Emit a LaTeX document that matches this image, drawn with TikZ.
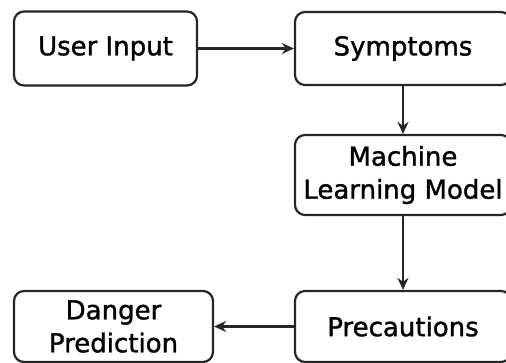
\documentclass[tikz,border=0pt]{standalone}
\usepackage{fontspec}
\setmainfont{DejaVu Sans}
\newfontfamily\stagefont[FakeBold=1.3]{DejaVu Sans}
\usetikzlibrary{arrows.meta,positioning}

\begin{document}
\begin{tikzpicture}[
    x=1pt, y=-1pt,
    stage/.style={rectangle, rounded corners=10pt, draw=black!85, fill=white, text=black,
                  line width=2.2pt, align=center, inner sep=0pt,
                  font=\stagefont\fontsize{26}{33}\selectfont},
    flow/.style={-{Stealth[length=12pt,width=11pt]}, draw=black!85, line width=2.2pt}
]
    \clip (0,0) rectangle (506,363);

    % Left column
    \node[stage, minimum width=183pt, minimum height=74pt] (userinput) at (105.5,48.5) {User Input};
    \node[stage, minimum width=199pt, minimum height=71pt] (danger) at (113.5,326.5) {Danger\\Prediction};

    % Right column
    \node[stage, minimum width=216pt, minimum height=73pt] (symptoms) at (403,48.5) {Symptoms};
    \node[stage, minimum width=216pt, minimum height=80pt] (mlmodel) at (403,175) {Machine\\Learning Model};
    \node[stage, minimum width=216pt, minimum height=71pt] (precautions) at (403,326.5) {Precautions};

    % Connectors
    \draw[flow] (userinput) -- (symptoms);
    \draw[flow] (symptoms) -- (mlmodel);
    \draw[flow] (mlmodel) -- (precautions);
    \draw[flow] (precautions) -- (danger);
\end{tikzpicture}
\end{document}
